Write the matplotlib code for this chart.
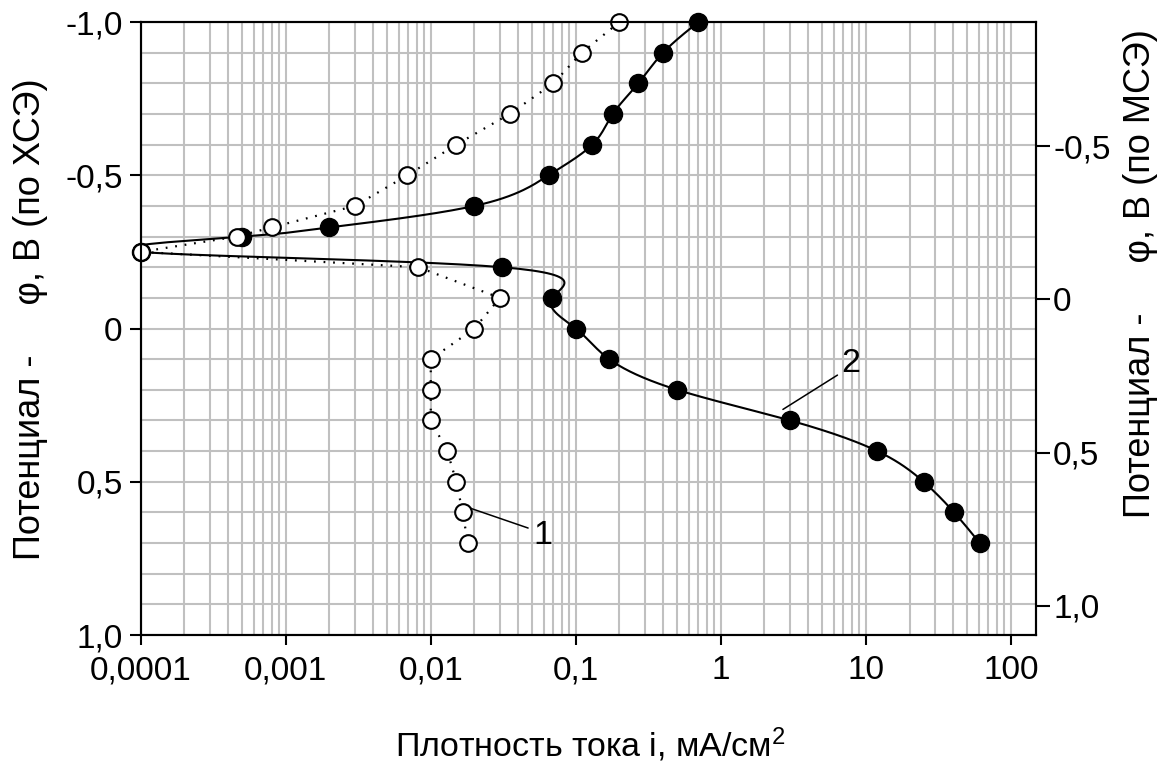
# Поляризационные кривые: 1 - светлые точки (пунктир), 2 - тёмные точки (сплошная)
import numpy as np
import matplotlib
matplotlib.use("Agg")
import matplotlib.pyplot as plt
from matplotlib.ticker import FixedLocator, NullFormatter, LogLocator, NullLocator

plt.rcParams['font.family'] = ['Liberation Sans', 'DejaVu Sans']
plt.rcParams['mathtext.default'] = 'regular'

# кривая 1 (светлые кружки)
i1 = [0.2, 0.11, 0.07, 0.035, 0.015, 0.0069, 0.003, 0.0008, 0.00046, 0.0001,
      0.0082, 0.030, 0.020, 0.010, 0.010, 0.010, 0.013, 0.015, 0.0166, 0.018]
phi1 = [-1.0, -0.9, -0.8, -0.7, -0.6, -0.5, -0.4, -0.33, -0.3, -0.25,
        -0.2, -0.1, 0.0, 0.1, 0.2, 0.3, 0.4, 0.5, 0.6, 0.7]

# кривая 2 (тёмные кружки)
i2 = [0.70, 0.40, 0.27, 0.18, 0.13, 0.065, 0.020, 0.002, 0.0005, 0.0001,
      0.031, 0.069, 0.10, 0.17, 0.50, 3.0, 12.0, 25.0, 40.6, 61.0]
phi2 = [-1.0, -0.9, -0.8, -0.7, -0.6, -0.5, -0.4, -0.33, -0.3, -0.25,
        -0.2, -0.1, 0.0, 0.1, 0.2, 0.3, 0.4, 0.5, 0.6, 0.7]

x_ticks = [0.0001, 0.001, 0.01, 0.1, 1, 10, 100]
x_labels = ['0,0001', '0,001', '0,01', '0,1', '1', '10', '100']
y_ticks = [-1.0, -0.5, 0.0, 0.5, 1.0]
y_labels = ['-1,0', '-0,5', '0', '0,5', '1,0']
y2_ticks = [-0.5, 0.0, 0.5, 1.0]
y2_labels = ['-0,5', '0', '0,5', '1,0']
shift = 0.095   # сдвиг шкалы МСЭ относительно ХСЭ


def nat_spline(v, n=30):
    # натуральный кубический сплайн по номеру точки
    v = np.asarray(v, float)
    N = len(v)
    A = np.zeros((N, N))
    b = np.zeros(N)
    A[0, 0] = A[-1, -1] = 1
    for k in range(1, N - 1):
        A[k, k - 1], A[k, k], A[k, k + 1] = 1, 4, 1
        b[k] = 3 * (v[k + 1] - 2 * v[k] + v[k - 1])
    c = np.linalg.solve(A, b)
    out = []
    for k in range(N - 1):
        bk = (v[k + 1] - v[k]) - (2 * c[k] + c[k + 1]) / 3
        dk = (c[k + 1] - c[k]) / 3
        s = np.linspace(0, 1, n, endpoint=False)
        out.append(v[k] + bk * s + c[k] * s**2 + dk * s**3)
    out.append([v[-1]])
    return np.concatenate(out)


fig = plt.figure(figsize=(11.61, 7.78), dpi=100)
ax = fig.add_axes([0.1212, 0.1838, 0.7715, 0.7879])

ax.set_xscale('log')
ax.set_xlim(1e-4, 150)
ax.set_ylim(1.0, -1.0)

# сетка
ax.xaxis.set_minor_locator(LogLocator(base=10, subs=np.arange(2, 10), numticks=20))
ax.xaxis.set_minor_formatter(NullFormatter())
ax.yaxis.set_minor_locator(FixedLocator(np.round(np.arange(-1.0, 1.01, 0.1), 2)))
ax.grid(True, which='both', color='#c0c0c0', linewidth=1.5)
ax.set_axisbelow(True)

# кривая 2 - сглаженная линия
lx2 = nat_spline(np.log10(i2))
ly2 = nat_spline(phi2)
ax.plot(10**lx2, ly2, color='black', linewidth=1.5, zorder=3)
ax.plot(i2, phi2, linestyle='none', marker='o', markersize=13,
        markerfacecolor='black', markeredgecolor='black', zorder=4, clip_on=False)

# кривая 1 - пунктир
ax.plot(i1, phi1, color='black', linewidth=1.6, linestyle=(0, (0.8, 3.5)), zorder=5)
ax.plot(i1, phi1, linestyle='none', marker='o', markersize=12,
        markerfacecolor='white', markeredgecolor='black', markeredgewidth=1.5,
        zorder=6, clip_on=False)

# подписи кривых
ax.annotate('', xy=(0.01866, 0.586), xytext=(0.0469, 0.651),
            arrowprops=dict(arrowstyle='-', color='black', lw=1.1, shrinkA=0, shrinkB=0))
ax.text(0.0596, 0.674, '1', fontsize=24.5, ha='center', va='center')
ax.annotate('', xy=(2.68, 0.264), xytext=(6.37, 0.152),
            arrowprops=dict(arrowstyle='-', color='black', lw=1.1, shrinkA=0, shrinkB=0))
ax.text(7.92, 0.113, '2', fontsize=24.5, ha='center', va='center')

# оси
ax.set_xticks(x_ticks)
ax.set_xticklabels(x_labels)
ax.set_yticks(y_ticks)
ax.set_yticklabels(y_labels)
ax.tick_params(axis='both', which='major', labelsize=24, width=1.5, direction='out')
ax.tick_params(axis='x', which='major', length=7.5, pad=7)
ax.tick_params(axis='y', which='major', length=8, pad=5)
ax.tick_params(axis='both', which='minor', length=0)
for sp in ax.spines.values():
    sp.set_linewidth(1.5)

ax.set_xlabel('Плотность тока i, мА/см$^2$', fontsize=24.5)
ax.xaxis.set_label_coords(0.502, -0.179)
ax.xaxis.label.set_va('center')
ax.set_ylabel('Потенциал -     φ, В (по ХСЭ)', fontsize=26)
ax.yaxis.set_label_coords(-0.1236, 0.515)
ax.yaxis.label.set_va('center')

# правая шкала (по МСЭ)
ax2 = ax.twinx()
ax2.set_ylim(1.0 + shift, -1.0 + shift)
ax2.set_yticks(y2_ticks)
ax2.set_yticklabels(y2_labels)
ax2.yaxis.set_minor_locator(NullLocator())
ax2.tick_params(axis='y', labelsize=24, width=1.5, length=10, pad=2)
ax2.set_ylabel('Потенциал -     φ, В (по МСЭ)', fontsize=26)
ax2.yaxis.set_label_coords(1.116, 0.590)
ax2.yaxis.label.set_va('center')
for sp in ax2.spines.values():
    sp.set_linewidth(1.5)

fig.savefig('out.png', dpi=100)
